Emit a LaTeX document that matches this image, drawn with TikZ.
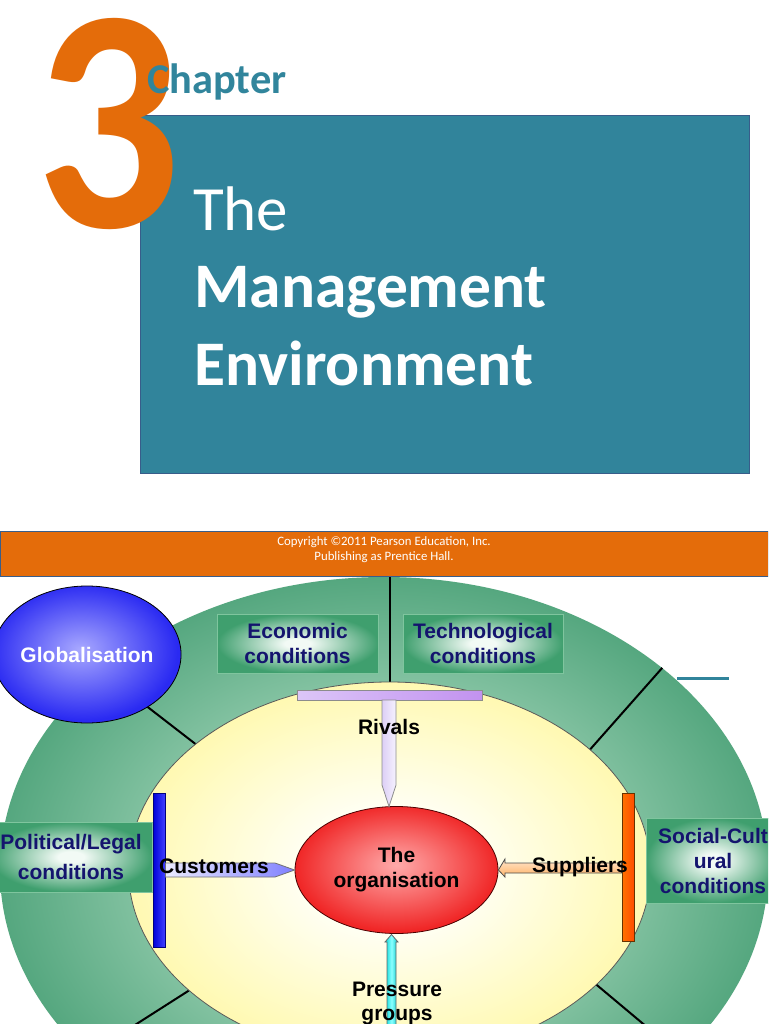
\documentclass[tikz,border=0pt]{standalone}
\usepackage{fontspec}
\newfontfamily\arialf{Liberation Sans}
\newfontfamily\calib{Carlito}
\usetikzlibrary{shapes.geometric,calc}
\definecolor{teal1}{HTML}{31849B}
\definecolor{boxedge}{HTML}{385D8A}
\definecolor{orange3}{HTML}{E46C0A}
\definecolor{chapteal}{HTML}{31859C}
\definecolor{ringin}{HTML}{9AD0B3}
\definecolor{ringmid}{HTML}{88C5A5}
\definecolor{ringout}{HTML}{55A77F}
\definecolor{yellin}{HTML}{FFFFF4}
\definecolor{yellout}{HTML}{FFF9B2}
\definecolor{globin}{HTML}{A8A8FF}
\definecolor{globout}{HTML}{2A2AF2}
\definecolor{redin}{HTML}{FFAAAA}
\definecolor{redout}{HTML}{F02626}
\definecolor{boxin}{HTML}{F2FAF5}
\definecolor{boxout}{HTML}{3F9F6E}
\definecolor{boxline}{HTML}{7FC59E}
\definecolor{navy}{HTML}{14146E}
\definecolor{rivL}{HTML}{DCC6F8}
\definecolor{rivR}{HTML}{C292F0}
\definecolor{rivsL}{HTML}{DCCFF6}
\definecolor{rivsR}{HTML}{F6F2FE}
\pgfdeclareradialshading{ringshade}{\pgfpoint{0bp}{0bp}}{color(0bp)=(ringin); color(15bp)=(ringmid); color(25bp)=(ringout); color(50bp)=(ringout)}
\pgfdeclareradialshading{yellshade}{\pgfpoint{0bp}{0bp}}{color(0bp)=(yellin); color(8bp)=(yellin); color(25bp)=(yellout); color(50bp)=(yellout)}
\pgfdeclareradialshading{globshade}{\pgfpoint{-2bp}{2bp}}{color(0bp)=(globin); color(25bp)=(globout); color(50bp)=(globout)}
\pgfdeclareradialshading{redshade}{\pgfpoint{0bp}{2bp}}{color(0bp)=(redin); color(25bp)=(redout); color(50bp)=(redout)}
\pgfdeclareradialshading{boxshade}{\pgfpoint{0bp}{0bp}}{color(0bp)=(boxin); color(4bp)=(boxin); color(25bp)=(boxout); color(50bp)=(boxout)}
\begin{document}
\begin{tikzpicture}[x=1pt,y=-1pt,
  lab/.style={font=\arialf\bfseries\fontsize{21}{25}\selectfont, inner sep=0pt, align=center},
  envbox/.style={rectangle, draw=boxline, line width=1pt, shade, shading=boxshade, inner sep=0pt, lab, text=navy},
  divline/.style={line width=2pt, black},
  arrowline/.style={line width=0.8pt, line join=miter},
]
\useasboundingbox (0,0) rectangle (768,1024);
\clip (0,0) rectangle (768,1024);
\fill[white] (0,0) rectangle (768,1024);

% ---------- title slide ----------
\node[rectangle, draw=boxedge, fill=teal1, line width=1pt, minimum width=609pt, minimum height=358pt, anchor=north west, inner sep=0pt] (titlebox) at (140,115) {};
\node[font=\calib\bfseries\fontsize{319}{319}\selectfont, text=orange3, anchor=base, inner sep=0pt, text height=214pt, text depth=4pt] (three) at (108.5,228) {\scalebox{0.9}[1]{3}};
\node[font=\calib\bfseries\fontsize{42.4}{50}\selectfont, text=chapteal, anchor=base west, inner sep=0pt] (chap) at (147,94) {Chapter};
\node[font=\calib\fontsize{63}{78}\selectfont, text=white, anchor=base west, inner sep=0pt] (t1) at (193,230) {The};
\node[font=\calib\bfseries\fontsize{63.5}{78}\selectfont, text=white, anchor=base west, inner sep=0pt] (t2) at (194,307) {Management};
\node[font=\calib\bfseries\fontsize{63.5}{78}\selectfont, text=white, anchor=base west, inner sep=0pt] (t3) at (194,385) {Environment};

% ---------- diagram ----------
\draw[teal1, line width=3pt] (677,678) -- (729,678);
\node[rectangle, anchor=north west, minimum width=768pt, minimum height=45pt, fill=orange3, draw=boxedge, line width=0.8pt, inner sep=0pt] (band) at (0,531) {};
\node[font=\calib\fontsize{12.8}{15.5}\selectfont, text=white, align=center, inner sep=0pt] (copy) at (384,549.5) {Copyright ©2011 Pearson Education, Inc.\\Publishing as Prentice Hall.};

\node[ellipse, minimum width=768pt, minimum height=586pt, inner sep=0pt, shade, shading=ringshade] (outer) at (384,870) {};
\node[ellipse, minimum width=522pt, minimum height=376pt, inner sep=0pt] (innerref) at (389.5,870) {};
\node[ellipse, minimum width=172pt, minimum height=137pt, inner sep=0pt] (globref) at (87,654.5) {};

\draw[divline] (innerref.north) -- (innerref.north |- band.south);
\draw[divline] (innerref.147.3) -- (globref.-41.3);
\draw[divline] (innerref.31.5) -- (outer.36.7);
\draw[divline] (innerref.211) -- (outer.212.6);
\draw[divline] (innerref.-29) -- (outer.-32.5);

\node[ellipse, minimum width=522pt, minimum height=376pt, inner sep=0pt, shade, shading=yellshade, draw=black!65, line width=0.8pt] (inner) at (389.5,870) {};

\node[envbox, minimum width=161pt, minimum height=59pt] (econ) at (297.5,643.5) {Economic\\conditions};
\node[envbox, minimum width=160pt, minimum height=59pt] (tech) at (483,643.5) {Technological\\conditions};
\node[envbox, minimum width=162pt, minimum height=70pt, font=\arialf\bfseries\fontsize{21}{30}\selectfont] (pol) at (71,857) {Political/Legal\\conditions};
\node[envbox, minimum width=134pt, minimum height=85pt] (soc) at (713,860.5) {Social-Cult\\ural\\conditions};

\node[ellipse, minimum width=172pt, minimum height=137pt, inner sep=0pt, shade, shading=globshade, draw=black, line width=0.8pt, lab, text=white] (glob) at (87,654.5) {Globalisation};

% organisation
\node[ellipse, minimum width=203pt, minimum height=127pt, inner sep=0pt, shade, shading=redshade, draw=black!70!red, line width=0.8pt, lab, text=black] (org) at (396.5,870) {The\\organisation};

% rivals
\node[rectangle, minimum width=185pt, minimum height=10pt, inner sep=0pt, left color=rivL, right color=rivR, draw=black!45, line width=0.8pt] (rivbar) at (389.5,695) {};
\coordinate (rivtip) at (389,806.5);
\draw[arrowline, draw=black!45, left color=rivsL, right color=rivsR] (382,700) -- (382,785) -- (rivtip) -- (396,785) -- (396,700) -- cycle;
\node[lab, text=black] (rivals) at (389,727) {Rivals};

% customers
\node[rectangle, minimum width=12pt, minimum height=154pt, inner sep=0pt, left color=blue!85!black, right color=blue!75, draw=blue!50!black, line width=0.8pt] (custbar) at (159,870) {};
\draw[arrowline, draw=black!55, left color=blue!8, right color=blue!50] (custbar.east |- 0,863) -- (275,863) -- (org.west) -- (275,877) -- (custbar.east |- 0,877) -- cycle;
\node[lab, text=black] (cust) at (214,866) {Customers};

% suppliers
\node[rectangle, minimum width=12pt, minimum height=148pt, inner sep=0pt, left color=orange!90!red, right color=orange!60!red, draw=orange!40!black, line width=0.8pt] (supbar) at (628,867) {};
\draw[arrowline, draw=black!70, top color=orange!20, bottom color=orange!60] (supbar.west |- 0,863) -- (505,863) -- (505,859) -- (org.east) -- (505,877) -- (505,873) -- (supbar.west |- 0,873) -- cycle;
\node[lab, text=black] (sup) at (580,867.5) {Suppliers};

% pressure groups
\coordinate (prtip) at (391.5,934.5);
\draw[arrowline, draw=black!60, left color=cyan!85!black, right color=cyan!80!black, middle color=cyan!45] (387,1030) -- (387,942) -- (385,942) -- (prtip) -- (398,942) -- (396,942) -- (396,1030) -- cycle;
\node[lab, text=black, font=\arialf\bfseries\fontsize{21}{24}\selectfont] (press) at (397,1003.4) {Pressure\\groups};
\end{tikzpicture}
\end{document}
